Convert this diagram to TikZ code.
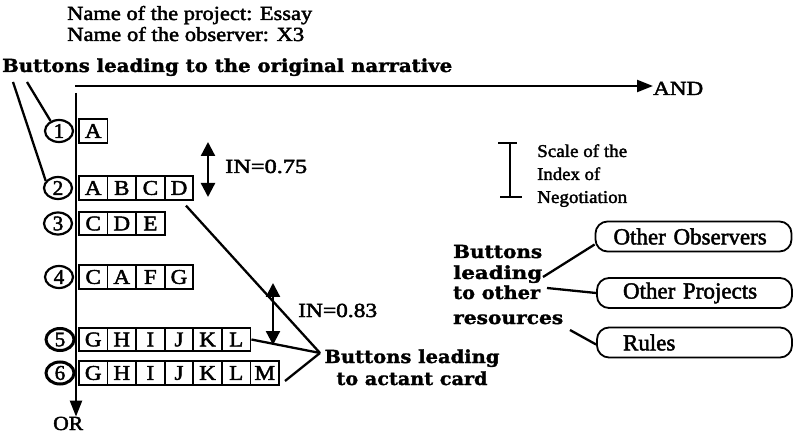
\documentclass[tikz,border=0pt]{standalone}
\usepackage{fontspec}
\usepackage{graphicx}
\setmainfont{Liberation Serif}[FakeBold=2]
\newfontfamily\bfam{DejaVu Serif}[BoldFeatures={FakeBold=1.5}]
\usetikzlibrary{arrows.meta,shapes.geometric}
\newcommand{\fw}[2]{\resizebox{#1}{\height}{#2}}
\newcommand{\sx}[1]{\scalebox{1.1}[1]{#1}}
\tikzset{
  txt/.style={inner sep=0pt, anchor=base west, font=\fontsize{20}{22}\selectfont},
  stxt/.style={inner sep=0pt, anchor=base west, font=\fontsize{18}{22}\selectfont},
  btxt/.style={inner sep=0pt, anchor=base west, font=\bfam\bfseries\fontsize{18}{20}\selectfont},
  lbox/.style={draw, line width=1.8pt, minimum width=28.6pt, minimum height=23.5pt, inner sep=0pt, anchor=west, font=\fontsize{21}{22}\selectfont},
  num/.style={ellipse, draw, line width=2.2pt, minimum width=28pt, minimum height=22pt, inner sep=0pt, font=\fontsize{21}{22}\selectfont},
  numb/.style={num, line width=3pt},
  ln/.style={line width=2.3pt},
  arr/.style={line width=2.3pt, -{Triangle[length=16pt,width=12pt]}},
  darr/.style={line width=2.3pt, {Triangle[length=14pt,width=14pt]}-{Triangle[length=14pt,width=14pt]}},
  rbox/.style={draw, line width=1.8pt, rounded corners=12pt, minimum height=30pt, inner ysep=0pt, align=left, font=\fontsize{23}{26}\selectfont}
}
\begin{document}
\begin{tikzpicture}[x=1pt,y=-1pt]
\useasboundingbox (0,0) rectangle (797,435);

% header texts
\node[txt] (t1) at (67,20) {\fw{245pt}{Name of the project: Essay}};
\node[txt] (t2) at (67,41) {\fw{237pt}{Name of the observer: X3}};
\node[btxt] (t3) at (2,72) {\fw{450pt}{Buttons leading to the original narrative}};

% axes
\node[txt] (and) at (653,95) {\fw{50pt}{AND}};
\node[txt] (or) at (53,430) {\fw{30pt}{OR}};
\coordinate (h0) at (75,86);
\coordinate (v0) at (76,93);
\draw[arr] (h0) -- (h0 -| and.west);
\draw[arr] (v0) -- (v0 |- or.north);

% rows
\node[num] (c1) at (59,131) {1};
\foreach \l [count=\i] in {A}
  \node[lbox] (b1-\i) at ({78+(\i-1)*28.6},131) {\sx{\l}};
\node[num] (c2) at (58,188) {2};
\foreach \l [count=\i] in {A,B,C,D}
  \node[lbox] (b2-\i) at ({78+(\i-1)*28.6},188) {\sx{\l}};
\node[num] (c3) at (58,223.5) {3};
\foreach \l [count=\i] in {C,D,E}
  \node[lbox] (b3-\i) at ({78+(\i-1)*28.6},223.5) {\sx{\l}};
\node[num] (c4) at (59,277) {4};
\foreach \l [count=\i] in {C,A,F,G}
  \node[lbox] (b4-\i) at ({78+(\i-1)*28.6},277) {\sx{\l}};
\node[numb] (c5) at (60,339.5) {5};
\foreach \l [count=\i] in {G,H,I,J,K,L}
  \node[lbox] (b5-\i) at ({78+(\i-1)*28.6},339.5) {\sx{\l}};
\node[numb] (c6) at (60,373) {6};
\foreach \l [count=\i] in {G,H,I,J,K,L,M}
  \node[lbox] (b6-\i) at ({78+(\i-1)*28.6},373) {\sx{\l}};

% pointers from the title
\coordinate (d1) at (13,82);
\coordinate (d2) at (27,82);
\draw[ln] (d1) -- (c2.150);
\draw[ln] (d2) -- (c1.130);

% IN arrows
\coordinate (i1a) at (208,142);
\coordinate (i1b) at (208,197);
\draw[darr] (i1a) -- (i1b);
\node[txt] (in1) at (225,173) {\fw{82pt}{IN=0.75}};
\coordinate (i2a) at (273,283);
\coordinate (i2b) at (273,345);
\draw[darr] (i2a) -- (i2b);
\node[txt] (in2) at (298,317) {\fw{79pt}{IN=0.83}};

% actant card buttons
\coordinate (conv) at (320,353);
\draw[ln] ([shift={(7,5)}]b2-4.south) -- (conv);
\draw[ln] (b5-6.east) -- (conv);
\draw[ln] ([shift={(5,8)}]b6-7.east) -- (conv);
\node[btxt, anchor=base] (ac1) at (412,363) {\fw{175pt}{Buttons leading}};
\node[btxt, anchor=base] (ac2) at (412,385) {\fw{151pt}{to actant card}};

% scale
\coordinate (s0) at (510,143);
\coordinate (s1) at (510,197);
\draw[ln] (s0) -- (s1);
\draw[ln] ([shift={(-12,0)}]s0) -- ([shift={(7,0)}]s0);
\draw[ln] ([shift={(-10,0)}]s1) -- ([shift={(12,0)}]s1);
\node[stxt] (sc1) at (537,157) {\fw{90pt}{Scale of the}};
\node[stxt] (sc2) at (537,180) {\fw{63pt}{Index of}};
\node[stxt] (sc3) at (537,203) {\fw{90pt}{Negotiation}};

% other resources
\node[btxt] (r1) at (453,258) {\fw{89pt}{Buttons}};
\node[btxt] (r2) at (453,279) {\fw{89pt}{leading}};
\node[btxt] (r3) at (453,299) {\fw{87pt}{to other}};
\node[btxt] (r4) at (453,324) {\fw{110pt}{resources}};

\node[rbox, text width=160pt, inner xsep=18pt] (obs) at (693.5,236.5) {Other Observers};
\node[rbox, text width=143pt, inner xsep=26pt] (proj) at (694.5,293) {Other Projects};
\node[rbox, text width=143pt, inner xsep=26pt] (rules) at (694.5,342.5) {Rules};

\coordinate (e1) at (543,277);
\coordinate (e2) at (547,288);
\coordinate (e3) at (570,330);
\draw[ln] (e1) -- ([shift={(0,8)}]obs.west);
\draw[ln] (e2) -- (proj.west);
\draw[ln] (e3) -- ([shift={(0,2)}]rules.west);
\end{tikzpicture}
\end{document}
